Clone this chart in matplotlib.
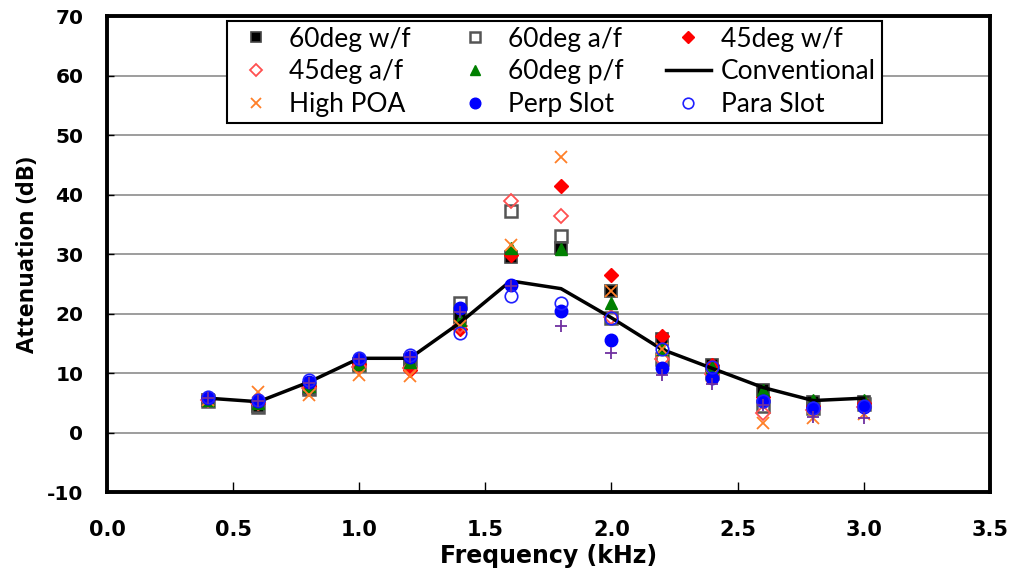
import matplotlib
matplotlib.use("Agg")
import matplotlib.pyplot as plt
from matplotlib.lines import Line2D

freq = [0.4, 0.6, 0.8, 1.0, 1.2, 1.4, 1.6, 1.8, 2.0, 2.2, 2.4, 2.6, 2.8, 3.0]

deg60_wf = [5.5, 4.5, 7.5, 11.5, 12.0, 19.5, 29.5, 31.0, 23.8, 15.8, 11.3, 7.2, 5.2, 5.2]
deg60_af = [5.3, 4.3, 7.3, 11.3, 12.2, 21.8, 37.3, 33.0, 19.3, 12.3, 10.0, 4.5, 4.2, 4.8]
deg45_wf = [5.8, 5.0, 7.8, 11.5, 10.6, 17.5, 29.8, 41.4, 26.5, 16.2, 11.4, 6.0, 4.5, 5.0]
deg45_af = [5.5, 5.0, 7.5, 11.0, 10.8, 18.0, 38.9, 36.4, 19.5, 12.3, 9.8, 3.3, 3.8, 4.3]
deg60_pf = [5.5, 5.0, 7.8, 11.5, 11.8, 19.0, 31.1, 30.8, 21.8, 14.0, 11.0, 7.2, 5.5, 5.5]
conventional = [5.8, 5.2, 8.5, 12.5, 12.5, 18.5, 25.5, 24.2, 19.3, 14.0, 10.8, 7.6, 5.4, 5.8]
high_poa = [5.5, 6.9, 6.4, 9.7, 9.5, 18.0, 31.6, 46.3, 23.8, 14.0, 9.5, 1.7, 2.5, 3.2]
perp_slot = [5.9, 5.4, 8.6, 12.3, 12.8, 21.0, 24.9, 20.4, 15.6, 10.9, 9.2, 5.3, 4.2, 4.4]
para_slot = [6.0, 5.5, 8.8, 12.5, 13.0, 16.8, 22.9, 21.8, 19.3, 14.0, 11.0, 5.3, 4.2, 4.5]
unlabeled = [5.8, 5.3, 8.3, 12.3, 12.8, 20.2, 24.6, 17.9, 13.4, 9.7, 8.1, 4.7, 2.7, 2.5]

x_ticks = [0.0, 0.5, 1.0, 1.5, 2.0, 2.5, 3.0, 3.5]
y_ticks = [-10, 0, 10, 20, 30, 40, 50, 60, 70]

fig = plt.figure(figsize=(10.1, 5.75), dpi=100)
ax = fig.add_axes([0.106, 0.144, 0.874, 0.828])

ms = 9
h = {}
h['60deg w/f'], = ax.plot(freq, deg60_wf, ls='none', marker='s', ms=ms, mfc='black', mec='#444444', mew=1.2, zorder=3)
h['60deg a/f'], = ax.plot(freq, deg60_af, ls='none', marker='s', ms=ms, mfc='none', mec='#555555', mew=1.8, zorder=3)
h['45deg w/f'], = ax.plot(freq, deg45_wf, ls='none', marker='D', ms=7.5, mfc='red', mec='red', mew=1, zorder=3)
h['45deg a/f'], = ax.plot(freq, deg45_af, ls='none', marker='D', ms=7.5, mfc='none', mec='#ff5050', mew=1.3, zorder=3)
h['60deg p/f'], = ax.plot(freq, deg60_pf, ls='none', marker='^', ms=ms, mfc='#008000', mec='#008000', zorder=3)
h['Conventional'], = ax.plot(freq, conventional, color='black', lw=2.5, zorder=3)
h['High POA'], = ax.plot(freq, high_poa, ls='none', marker='x', ms=ms, mec='#ff7f27', mew=1.3, zorder=3)
h['Perp Slot'], = ax.plot(freq, perp_slot, ls='none', marker='o', ms=ms, mfc='#0000ff', mec='#0000ff', zorder=3)
h['Para Slot'], = ax.plot(freq, para_slot, ls='none', marker='o', ms=ms, mfc='none', mec='#2020ff', mew=1.2, zorder=3)
ax.plot(freq, unlabeled, ls='none', marker='+', ms=ms, mec='#7030a0', mew=1.3, zorder=3)

ax.set_xlim(0, 3.5)
ax.set_ylim(-10, 70)
ax.set_xticks(x_ticks)
ax.set_xticklabels([f"{v:.1f}" for v in x_ticks])
ax.set_yticks(y_ticks)
ax.set_yticklabels([str(v) for v in y_ticks])
for yv in y_ticks[1:-1]:
    ax.axhline(yv, color='#8c8c8c', lw=1.2, zorder=1)

for sp in ax.spines.values():
    sp.set_linewidth(2.8)
ax.tick_params(axis='x', direction='in', length=7, width=1, pad=20)
ax.tick_params(axis='y', direction='in', length=5, width=1, pad=17)
for lab in ax.get_xticklabels():
    lab.set_fontweight('bold'); lab.set_fontsize(15)
for lab in ax.get_yticklabels():
    lab.set_fontweight('bold'); lab.set_fontsize(14.5)

ax.set_xlabel('Frequency (kHz)', fontsize=17, fontweight='bold', labelpad=3)
ax.set_ylabel('Attenuation (dB)', fontsize=17, fontweight='bold', family=['Open Sans', 'DejaVu Sans'], labelpad=5)

order = ['60deg w/f', '45deg a/f', 'High POA',
         '60deg a/f', '60deg p/f', 'Perp Slot',
         '45deg w/f', 'Conventional', 'Para Slot']
leg_handles = []
for k in order:
    src = h[k]
    if k == 'Conventional':
        leg_handles.append(Line2D([], [], color='black', lw=2.5))
    else:
        leg_handles.append(Line2D([], [], ls='none', marker=src.get_marker(),
                                  ms=src.get_markersize() * 0.85,
                                  mfc=src.get_markerfacecolor(),
                                  mec=src.get_markeredgecolor(),
                                  mew=src.get_markeredgewidth()))
leg = ax.legend(leg_handles, order, ncol=3, loc='upper center',
                bbox_to_anchor=(0.507, 1.018), frameon=True, fancybox=False,
                edgecolor='black', framealpha=1, prop={'family': 'Lato', 'size': 19},
                handlelength=1.7, columnspacing=1.6, labelspacing=0.3,
                borderpad=0.22, handletextpad=0.4)
leg.get_frame().set_linewidth(1.5)
leg.set_zorder(5)

fig.savefig('out.png', dpi=100)
